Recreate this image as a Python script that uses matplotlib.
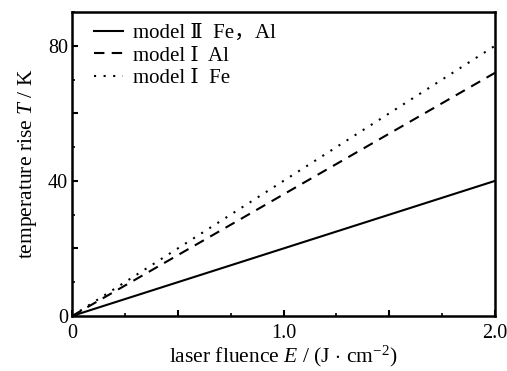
import matplotlib
matplotlib.use("Agg")
import matplotlib.pyplot as plt
from matplotlib.ticker import MultipleLocator

fluence = [0.0, 2.0]
model2_fe_al = [0.0, 40.0]
model1_al = [0.0, 72.0]
model1_fe = [0.0, 80.0]
labels = ["model Ⅱ  Fe，Al", "model Ⅰ  Al", "model Ⅰ  Fe"]
xticks = [0, 0.5, 1.0, 1.5, 2.0]
xticklabels = ["0", "", "1.0", "", "2.0"]
yticks = [0, 20, 40, 60, 80]
yticklabels = ["0", "", "40", "", "80"]

fam = ["Liberation Serif", "DejaVu Serif", "Noto Sans CJK SC"]
plt.rcParams['font.family'] = fam
plt.rcParams['mathtext.fontset'] = 'custom'
plt.rcParams['mathtext.it'] = 'Liberation Serif:italic'
plt.rcParams['mathtext.rm'] = 'Liberation Serif'

fig = plt.figure(figsize=(5.07, 3.71), dpi=100)
ax = fig.add_axes([72/507, 1-316/371, (495-72)/507, (316-12)/371])

ax.plot(fluence, model2_fe_al, color='black', lw=1.5, linestyle='-', label=labels[0])
ax.plot(fluence, model1_al, color='black', lw=1.5, linestyle=(0, (5, 3.5)), label=labels[1])
ax.plot(fluence, model1_fe, color='black', lw=1.5, linestyle=(0, (1, 3.6)), label=labels[2])

ax.set_xlim(0, 2.0)
ax.set_ylim(0, 90)
ax.set_xticks(xticks)
ax.set_xticklabels(xticklabels)
ax.set_yticks(yticks)
ax.set_yticklabels(yticklabels)
ax.xaxis.set_minor_locator(MultipleLocator(0.25))
ax.yaxis.set_minor_locator(MultipleLocator(10))
ax.tick_params(which='major', direction='in', length=4, width=1.5, labelsize=14.5,
               top=False, right=False)
ax.tick_params(axis='x', which='major', pad=5.5)
ax.tick_params(axis='y', which='major', pad=3)
ax.tick_params(which='minor', direction='in', length=2.5, width=1.2, top=False, right=False)
for s in ax.spines.values():
    s.set_linewidth(1.8)

ax.set_xlabel(r"laser fluence $E$ / (J$\,\cdot\,$cm$^{-2}$)", fontsize=15.5, labelpad=1)
ax.set_ylabel(r"temperature rise $T$ / K", fontsize=15.5, labelpad=6)

leg = ax.legend(loc='upper left', frameon=False, fontsize=15, handlelength=1.4,
                handletextpad=0.5, labelspacing=0.15, borderaxespad=0.15,
                bbox_to_anchor=(0.024, 1.0))

fig.savefig("out.png", dpi=100)
